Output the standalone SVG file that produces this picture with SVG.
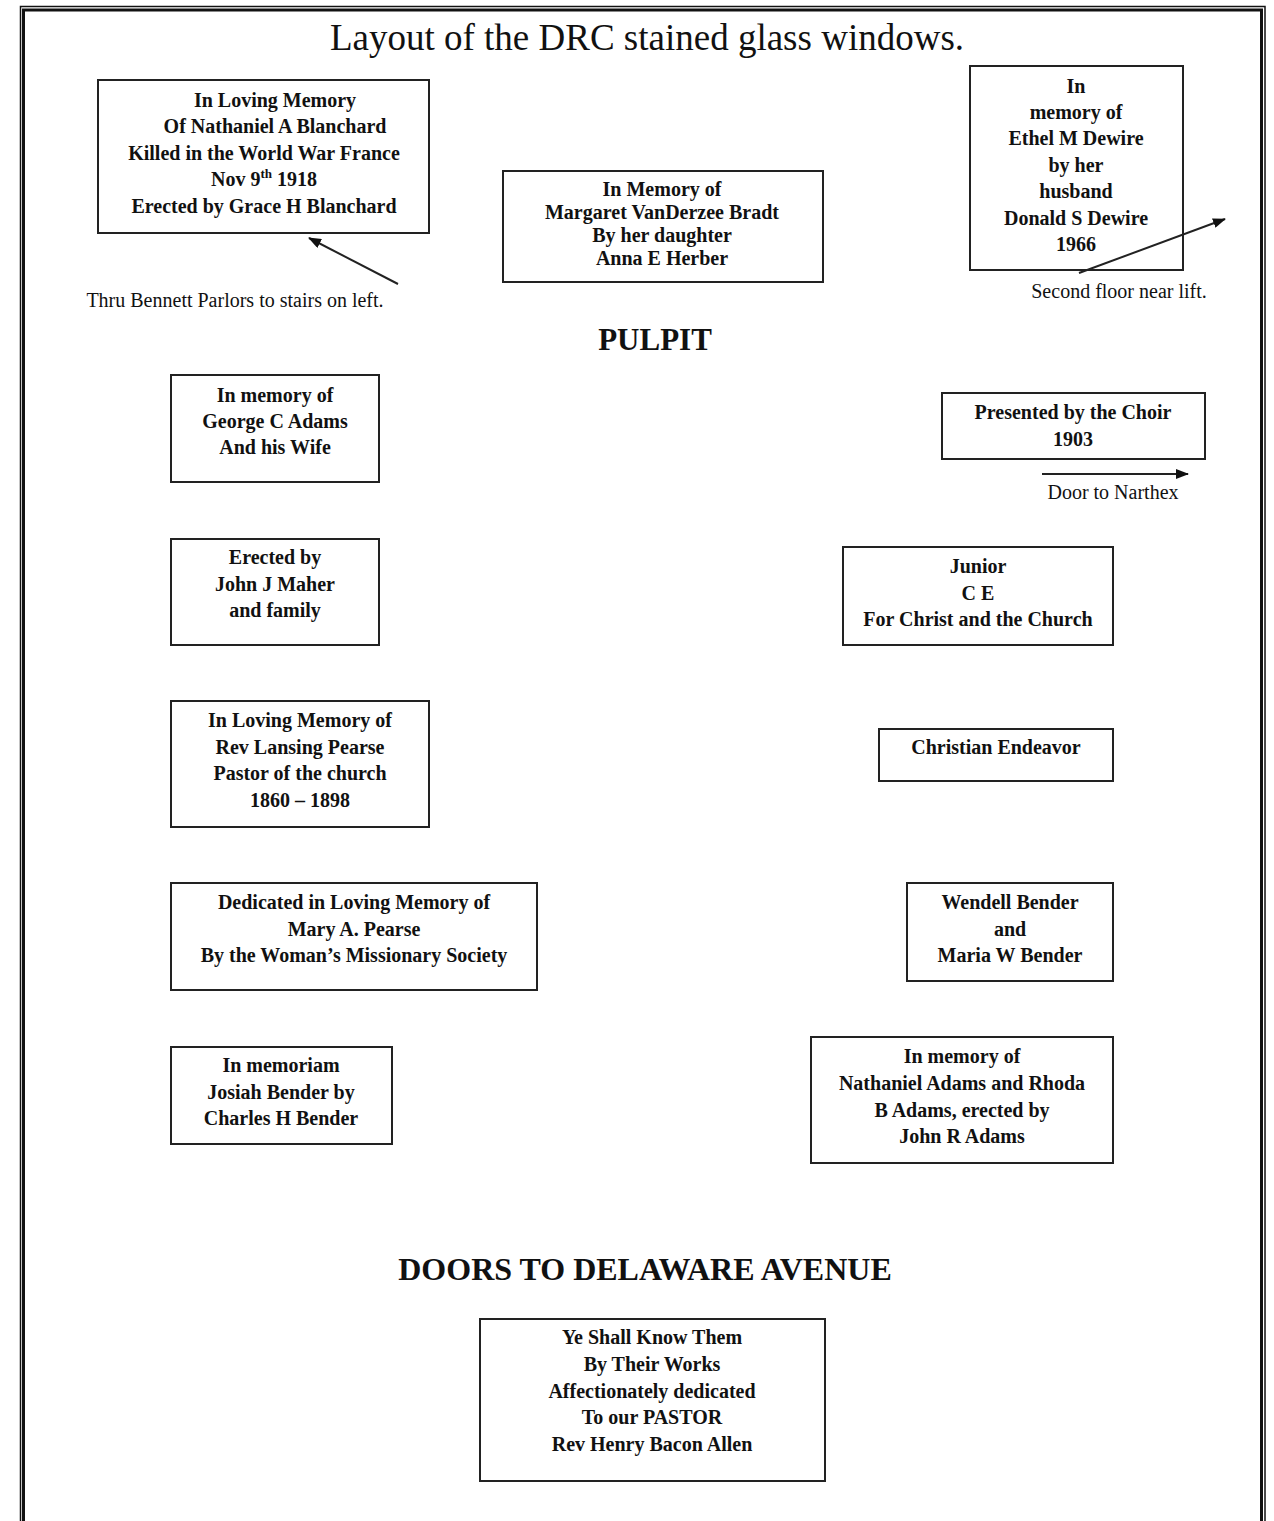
<svg xmlns="http://www.w3.org/2000/svg" width="1274" height="1521" viewBox="0 0 1274 1521">
<style>
.box{fill:#fff;stroke:#222;stroke-width:2}
.t{font-family:"Liberation Serif","Times New Roman",serif;font-weight:bold;font-size:20px;fill:#111;text-anchor:middle}
.lbl{font-family:"Liberation Serif","Times New Roman",serif;font-size:20px;fill:#111;text-anchor:middle}
.hd{font-family:"Liberation Serif","Times New Roman",serif;font-weight:bold;font-size:31px;fill:#111;text-anchor:middle}
.hd2{font-size:32px}
.title{font-family:"Liberation Serif","Times New Roman",serif;font-size:37px;fill:#111;text-anchor:middle}
.sup{font-size:13px}
.conn{stroke:#222;stroke-width:2;fill:none;marker-end:url(#ah)}
</style>
<defs>
<marker id="ah" viewBox="0 0 13 10" refX="12" refY="5" markerWidth="13" markerHeight="10" markerUnits="userSpaceOnUse" orient="auto">
<path d="M0,0 L13,5 L0,10 Z" fill="#111"/>
</marker>
</defs>
<rect width="1274" height="1521" fill="#fff"/>
<g id="frame" fill="none" stroke="#111">
<path d="M20.5,1530 V6.5 H1265 V1530" stroke-width="1.5"/>
<path d="M23.5,1530 V10 H1261.5 V1530" stroke-width="3"/>
</g>
<text id="title" class="title" x="647" y="50">Layout of the DRC stained glass windows.</text>

<g id="n-blanchard">
<rect class="box" x="98" y="80" width="331" height="153"/>
<text class="t" x="275" y="107">In Loving Memory</text>
<text class="t" x="275" y="133">Of Nathaniel A Blanchard</text>
<text class="t" x="264" y="160">Killed in the World War France</text>
<text class="t" x="264" y="186">Nov 9<tspan class="sup" dy="-8">th</tspan><tspan dy="8"> 1918</tspan></text>
<text class="t" x="264" y="213">Erected by Grace H Blanchard</text>
</g>
<text id="l-thru" class="lbl" x="235" y="307">Thru Bennett Parlors to stairs on left.</text>

<g id="n-bradt">
<rect class="box" x="503" y="171" width="320" height="111"/>
<text class="t" x="662" y="196">In Memory of</text>
<text class="t" x="662" y="219">Margaret VanDerzee Bradt</text>
<text class="t" x="662" y="242">By her daughter</text>
<text class="t" x="662" y="265">Anna E Herber</text>
</g>

<g id="n-dewire">
<rect class="box" x="970" y="66" width="213" height="204"/>
<text class="t" x="1076" y="93">In</text>
<text class="t" x="1076" y="119">memory of</text>
<text class="t" x="1076" y="145">Ethel M Dewire</text>
<text class="t" x="1076" y="172">by her</text>
<text class="t" x="1076" y="198">husband</text>
<text class="t" x="1076" y="225">Donald S Dewire</text>
<text class="t" x="1076" y="251">1966</text>
</g>
<text id="l-second" class="lbl" x="1119" y="298">Second floor near lift.</text>

<text id="pulpit" class="hd" x="655" y="350">PULPIT</text>

<g id="n-adams-george">
<rect class="box" x="171" y="375" width="208" height="107"/>
<text class="t" x="275" y="402">In memory of</text>
<text class="t" x="275" y="428">George C Adams</text>
<text class="t" x="275" y="454">And his Wife</text>
</g>

<g id="n-choir">
<rect class="box" x="942" y="393" width="263" height="66"/>
<text class="t" x="1073" y="419">Presented by the Choir</text>
<text class="t" x="1073" y="446">1903</text>
</g>
<text id="l-door" class="lbl" x="1113" y="499">Door to Narthex</text>

<g id="n-maher">
<rect class="box" x="171" y="539" width="208" height="106"/>
<text class="t" x="275" y="564">Erected by</text>
<text class="t" x="275" y="591">John J Maher</text>
<text class="t" x="275" y="617">and family</text>
</g>

<g id="n-junior">
<rect class="box" x="843" y="547" width="270" height="98"/>
<text class="t" x="978" y="573">Junior</text>
<text class="t" x="978" y="600">C E</text>
<text class="t" x="978" y="626">For Christ and the Church</text>
</g>

<g id="n-lansing">
<rect class="box" x="171" y="701" width="258" height="126"/>
<text class="t" x="300" y="727">In Loving Memory of</text>
<text class="t" x="300" y="754">Rev Lansing Pearse</text>
<text class="t" x="300" y="780">Pastor of the church</text>
<text class="t" x="300" y="807">1860 – 1898</text>
</g>

<g id="n-endeavor">
<rect class="box" x="879" y="729" width="234" height="52"/>
<text class="t" x="996" y="754">Christian Endeavor</text>
</g>

<g id="n-mary">
<rect class="box" x="171" y="883" width="366" height="107"/>
<text class="t" x="354" y="909">Dedicated in Loving Memory of</text>
<text class="t" x="354" y="936">Mary A. Pearse</text>
<text class="t" x="354" y="962">By the Woman’s Missionary Society</text>
</g>

<g id="n-wendell">
<rect class="box" x="907" y="883" width="206" height="98"/>
<text class="t" x="1010" y="909">Wendell Bender</text>
<text class="t" x="1010" y="936">and</text>
<text class="t" x="1010" y="962">Maria W Bender</text>
</g>

<g id="n-josiah">
<rect class="box" x="171" y="1047" width="221" height="97"/>
<text class="t" x="281" y="1072">In memoriam</text>
<text class="t" x="281" y="1099">Josiah Bender by</text>
<text class="t" x="281" y="1125">Charles H Bender</text>
</g>

<g id="n-nathaniel-adams">
<rect class="box" x="811" y="1037" width="302" height="126"/>
<text class="t" x="962" y="1063">In memory of</text>
<text class="t" x="962" y="1090">Nathaniel Adams and Rhoda</text>
<text class="t" x="962" y="1117">B Adams, erected by</text>
<text class="t" x="962" y="1143">John R Adams</text>
</g>

<text id="doors" class="hd hd2" x="645" y="1280">DOORS TO DELAWARE AVENUE</text>

<g id="n-allen">
<rect class="box" x="480" y="1319" width="345" height="162"/>
<text class="t" x="652" y="1344">Ye Shall Know Them</text>
<text class="t" x="652" y="1371">By Their Works</text>
<text class="t" x="652" y="1398">Affectionately dedicated</text>
<text class="t" x="652" y="1424">To our PASTOR</text>
<text class="t" x="652" y="1451">Rev Henry Bacon Allen</text>
</g>

<g id="connectors">
<line class="conn" x1="398" y1="284" x2="309" y2="238"/>
<line class="conn" x1="1079" y1="273" x2="1225" y2="219"/>
<line class="conn" x1="1042" y1="474" x2="1188" y2="474"/>
</g>
</svg>
